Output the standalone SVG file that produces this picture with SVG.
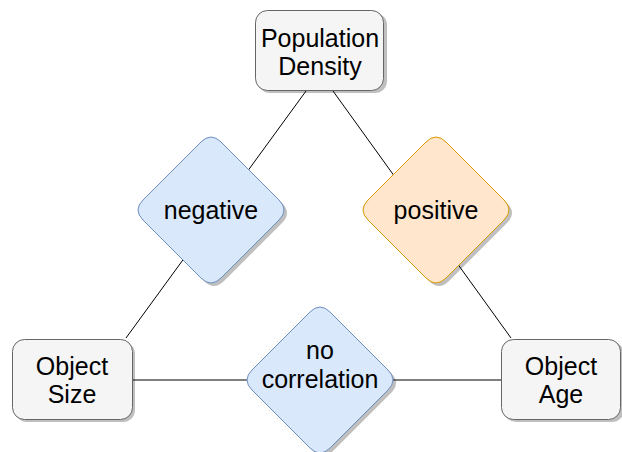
<svg xmlns="http://www.w3.org/2000/svg" xmlns:xlink="http://www.w3.org/1999/xlink" width="622" height="452" viewBox="0 0 622 452">
<style>
  .box{fill:#f5f5f5;stroke:#666666;stroke-width:1}
  .blue{fill:#dae8fc;stroke:#6c8ebf;stroke-width:1}
  .orange{fill:#ffe6cc;stroke:#d79b00;stroke-width:1}
  .shadow{fill:#000000;fill-opacity:0.25;stroke:none}
  .edge{stroke:#000000;stroke-width:1;fill:none}
  text{font-family:"Liberation Sans",Arial,sans-serif;font-size:25px;fill:#000000;text-anchor:middle}
</style>
<defs>
  <path id="dia" d="M -10,-68 Q 0,-78 10,-68 L 68,-10 Q 78,0 68,10 L 10,68 Q 0,78 -10,68 L -68,10 Q -78,0 -68,-10 Z"/>
</defs>
<rect width="622" height="452" fill="#ffffff"/>
<g id="connectors">
  <line class="edge" x1="306" y1="91" x2="126" y2="338"/>
  <line class="edge" x1="333" y1="91" x2="511" y2="338"/>
  <line class="edge" x1="132" y1="380" x2="501" y2="380"/>
</g>
<g id="population-density">
  <rect class="shadow" x="258" y="13" width="129" height="80" rx="12"/>
  <rect class="box" x="255.5" y="10.5" width="128" height="80" rx="12"/>
  <text x="320" y="47">Population</text>
  <text x="320" y="75">Density</text>
</g>
<g id="object-size">
  <rect class="shadow" x="15" y="342" width="120" height="80" rx="12"/>
  <rect class="box" x="12.5" y="339.5" width="120" height="80" rx="12"/>
  <text x="72" y="375">Object</text>
  <text x="72" y="403">Size</text>
</g>
<g id="object-age">
  <rect class="shadow" x="504" y="342" width="120" height="80" rx="12"/>
  <rect class="box" x="501.5" y="339.5" width="119" height="80" rx="12"/>
  <text x="561" y="375">Object</text>
  <text x="561" y="403">Age</text>
</g>
<g id="negative">
  <use href="#dia" xlink:href="#dia" class="shadow" transform="translate(214,213)"/>
  <use href="#dia" xlink:href="#dia" class="blue" transform="translate(211,210)"/>
  <text x="211" y="219">negative</text>
</g>
<g id="positive">
  <use href="#dia" xlink:href="#dia" class="shadow" transform="translate(439,213)"/>
  <use href="#dia" xlink:href="#dia" class="orange" transform="translate(436,210)"/>
  <text x="436" y="219">positive</text>
</g>
<g id="no-correlation">
  <use href="#dia" xlink:href="#dia" class="shadow" transform="translate(323,383)"/>
  <use href="#dia" xlink:href="#dia" class="blue" transform="translate(320,380)"/>
  <text x="320" y="359">no</text>
  <text x="320" y="388">correlation</text>
</g>
</svg>
